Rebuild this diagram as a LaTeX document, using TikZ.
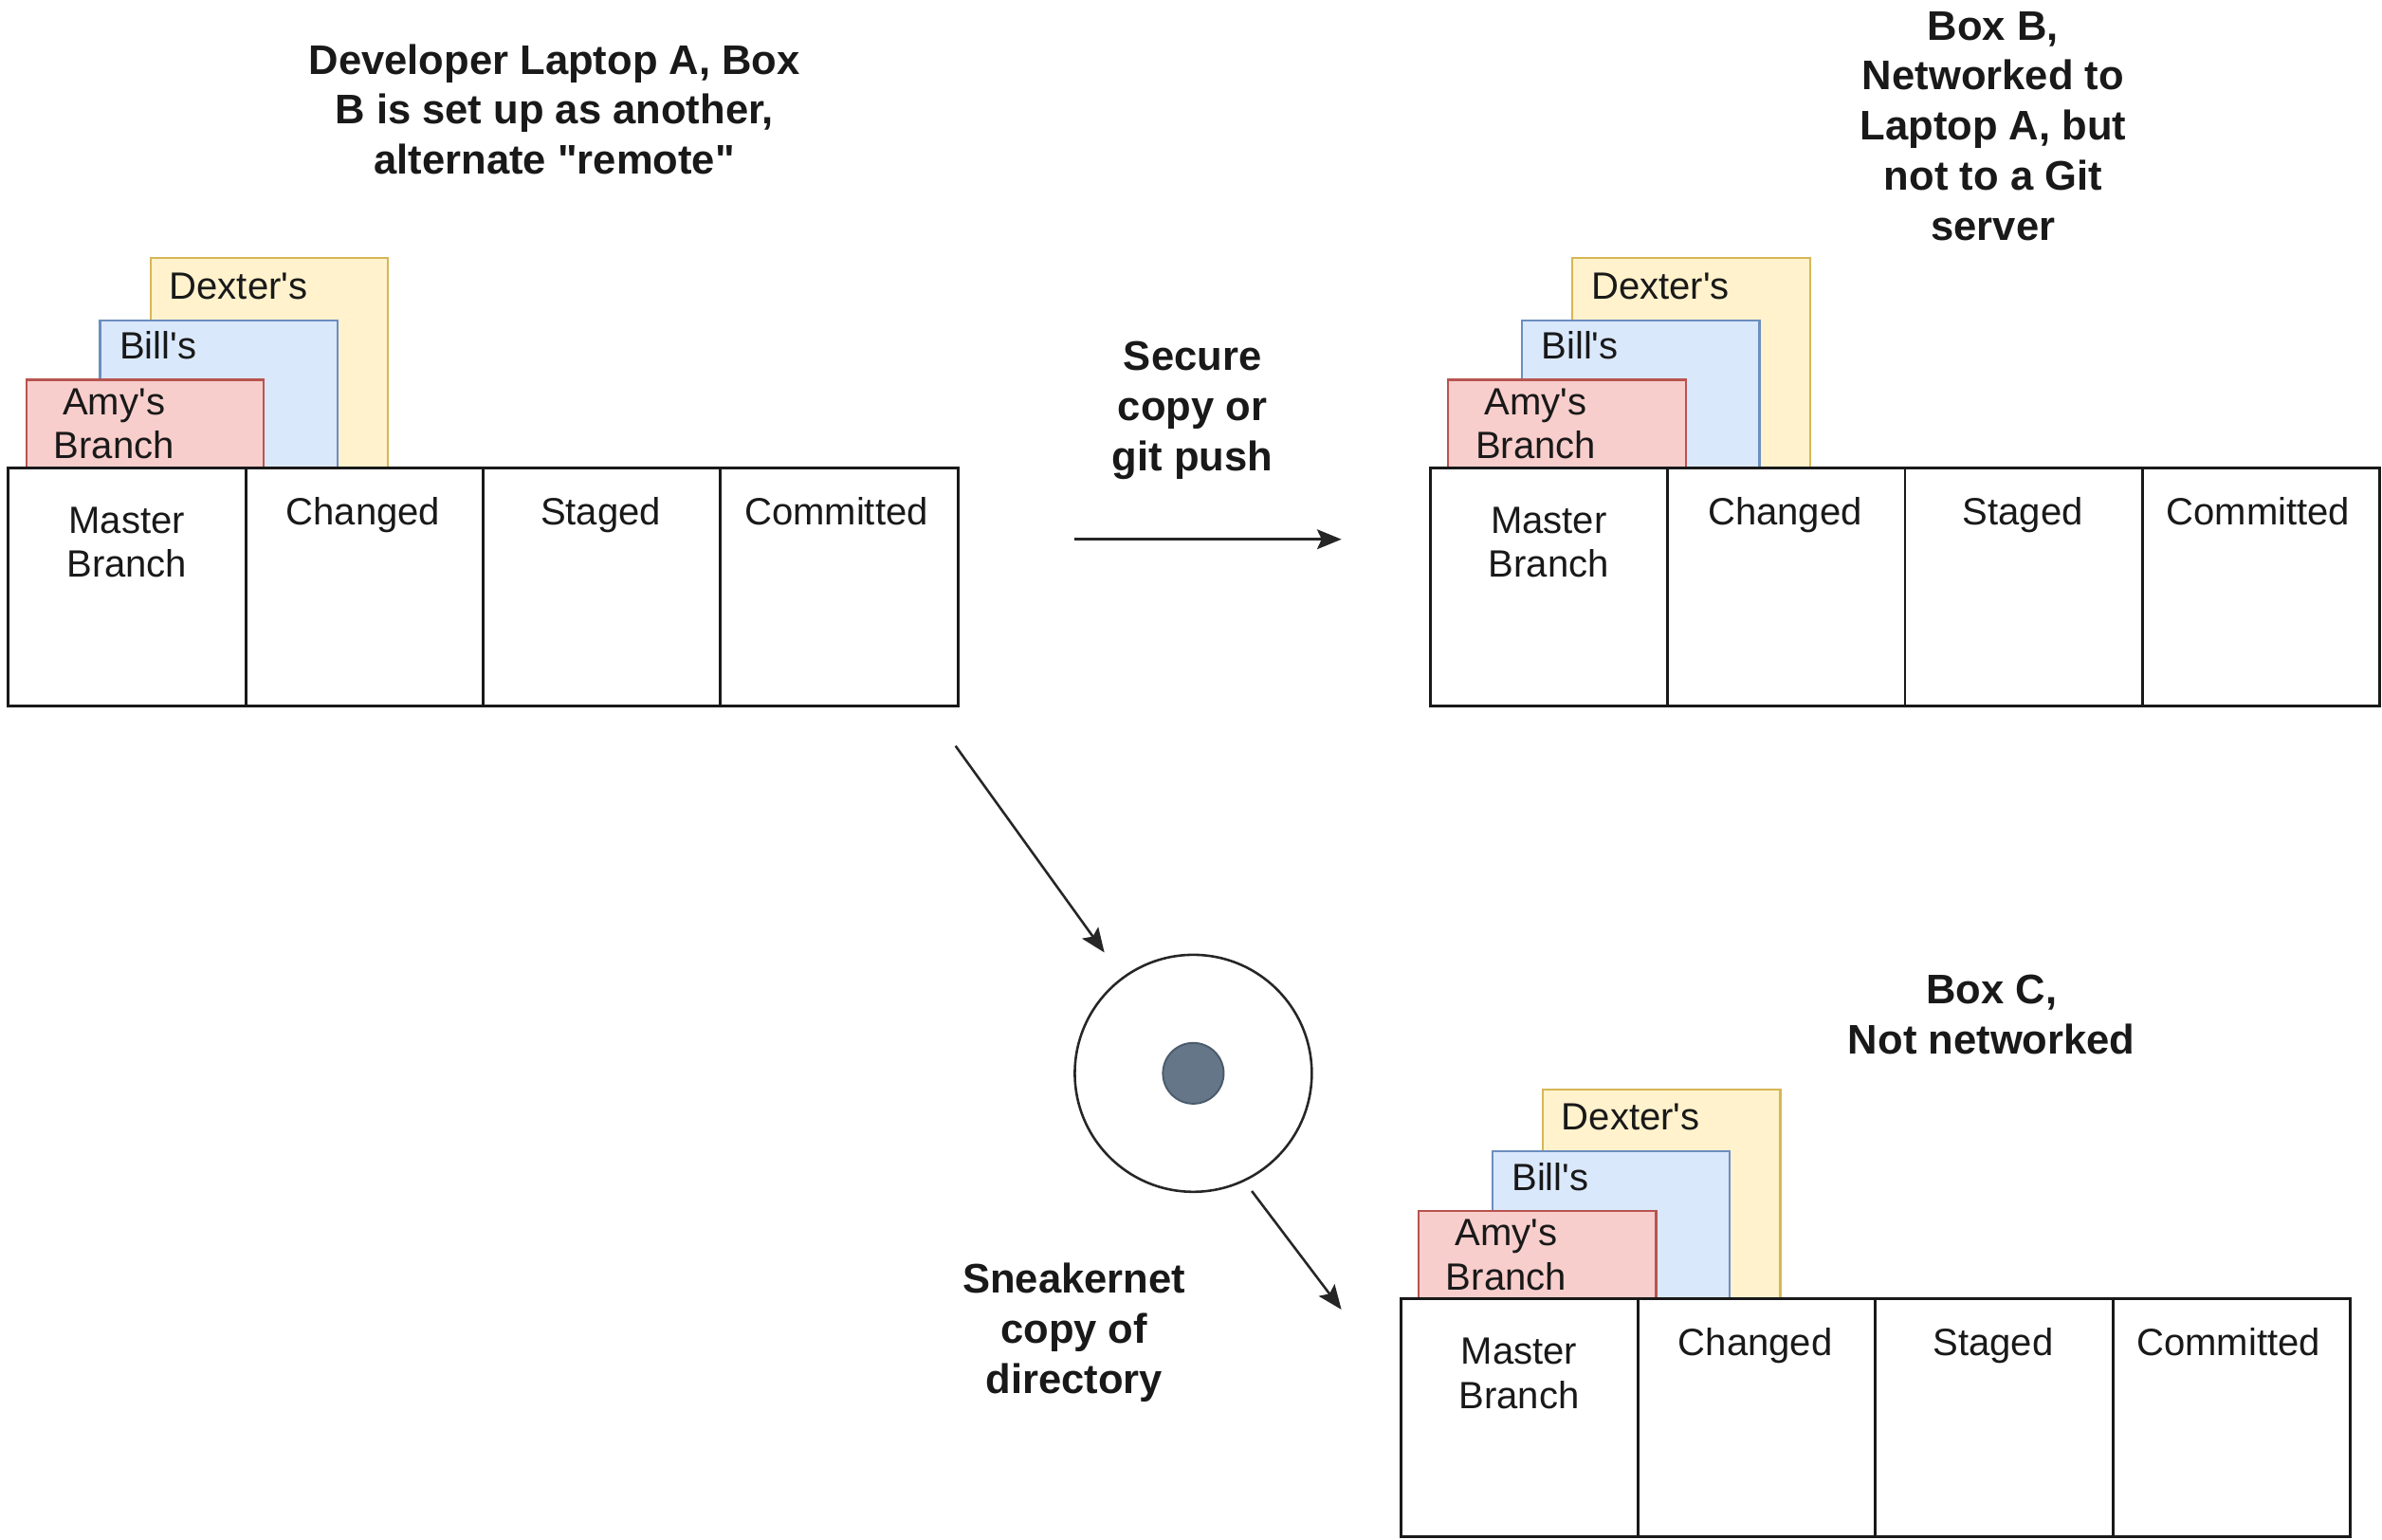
\documentclass[tikz,border=0pt]{standalone}
\usepackage{fontspec}
\newfontfamily\boardfont{Liberation Sans}
\usetikzlibrary{arrows.meta}
\tikzset{>={Stealth[length=16pt,width=13pt,inset=3pt]}}
\tikzset{
	cell/.style={draw=black!90,line width=1.8pt,fill=white,minimum width=156.25pt,minimum height=156.5pt,inner sep=0pt,outer sep=0pt},
	tab/.style={line width=1.4pt,minimum width=156.25pt,inner sep=0pt,outer sep=0pt},
	plain text/.style={font=\boardfont\fontsize{25}{29}\selectfont,align=center,inner sep=0pt,text=black!90},
	bold text/.style={font=\boardfont\bfseries\fontsize{27.2}{33}\selectfont,align=center,inner sep=0pt,text=black!90},
	flow/.style={->,line width=1.6pt,black!85}
}
\definecolor{tabyellow}{HTML}{FFF2CC}
\definecolor{edgeyellow}{HTML}{D6B656}
\definecolor{tabblue}{HTML}{DAE8FC}
\definecolor{edgeblue}{HTML}{6C8EBF}
\definecolor{tabred}{HTML}{F8CECC}
\definecolor{edgered}{HTML}{B85450}
\definecolor{discgrey}{HTML}{647687}
\definecolor{discedge}{HTML}{4A5B6C}

% one board: #1 name, (#2,#3) top left corner
\newcommand{\branchboard}[3]{
	\begin{scope}[shift={(#2,#3)}]
	\node[tab,draw=edgeyellow,fill=tabyellow,minimum height=138pt] (#1dexter) at (171.75,-69) {};
	\node[tab,draw=edgeblue,fill=tabblue,minimum height=97pt] (#1bill) at (138.5,-48.5) {};
	\node[tab,draw=edgered,fill=tabred,minimum height=58pt] (#1amy) at (90,-29) {};
	\node[plain text] (#1dextertext) at (151.5,-119.5) {Dexter's};
	\node[plain text] (#1billtext) at (98.5,-80.5) {Bill's};
	\node[plain text] (#1amytext) at (69.5,-29) {Amy's\\Branch};
	\node[cell] (#1master) at (78.1,78.25) {};
	\node[cell] (#1changed) at (234.4,78.25) {};
	\node[cell] (#1staged) at (390.6,78.25) {};
	\node[cell] (#1committed) at (546.9,78.25) {};
	\node[plain text] (#1mastertext) at (78,49) {Master\\Branch};
	\node[plain text,anchor=base] (#1changedtext) at (233.5,37.5) {Changed};
	\node[plain text,anchor=base] (#1stagedtext) at (390,37.5) {Staged};
	\node[plain text,anchor=base] (#1committedtext) at (545,37.5) {Committed};
	\end{scope}
}

\begin{document}
\begin{tikzpicture}[x=1pt,y=-1pt]
	\useasboundingbox (0,0) rectangle (1568,1013.7);

	\branchboard{laptop}{5.5}{308}
	\branchboard{boxb}{941.5}{308}
	\branchboard{boxc}{922}{855}

	\node[bold text] (laptoptitle) at (365,72) {Developer Laptop A, Box\\B is set up as another,\\alternate "remote"};
	\node[bold text] (boxbtitle) at (1312,83) {Box B,\\Networked to\\Laptop A, but\\not to a Git\\server};
	\node[bold text] (boxctitle) at (1311,668) {Box C,\\Not networked};
	\node[bold text] (pushtext) at (785,270) {Secure\\copy or\\git push};
	\node[bold text] (sneakertext) at (707,877) {Sneakernet\\copy of\\directory};

	\node[circle,draw=black!85,line width=1.6pt,fill=white,minimum size=156pt,inner sep=0pt] (disc) at (785.5,706.5) {};
	\node[circle,draw=discedge,line width=1.2pt,fill=discgrey,minimum size=40pt,inner sep=0pt] (hole) at (785.5,706.5) {};

	\coordinate (pushstart) at (707,355);
	\coordinate (pushend) at (883,355);
	\coordinate (copystart) at (629,491);
	\coordinate (copyend) at (727,627);
	\coordinate (carrystart) at (824,784);
	\coordinate (carryend) at (883,862);
	\draw[flow] (pushstart) -- (pushend);
	\draw[flow] (copystart) -- (copyend);
	\draw[flow] (carrystart) -- (carryend);
\end{tikzpicture}
\end{document}
